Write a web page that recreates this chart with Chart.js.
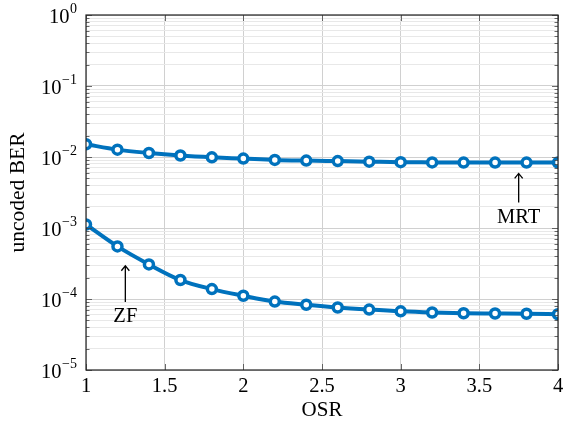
<!DOCTYPE html>
<html>
<head>
<meta charset="utf-8">
<script src="https://cdn.jsdelivr.net/npm/chart.js@4"></script>
<style>
  html, body { margin: 0; padding: 0; background: #fff; }
  #wrap { width: 571px; height: 426px; }
</style>
</head>
<body>
<div id="wrap"><canvas id="berChart" width="571" height="426"></canvas></div>
<script>
// Data
const osr = [1, 1.2, 1.4, 1.6, 1.8, 2, 2.2, 2.4, 2.6, 2.8, 3, 3.2, 3.4, 3.6, 3.8, 4];
const berMRT = [1.51e-2, 1.27e-2, 1.14e-2, 1.05e-2, 9.9e-3, 9.5e-3, 9.1e-3, 8.9e-3,
                8.75e-3, 8.6e-3, 8.45e-3, 8.4e-3, 8.35e-3, 8.35e-3, 8.35e-3, 8.35e-3];
const berZF = [1.12e-3, 5.5e-4, 3.07e-4, 1.85e-4, 1.38e-4, 1.11e-4, 9.2e-5, 8.3e-5,
               7.6e-5, 7.1e-5, 6.7e-5, 6.45e-5, 6.3e-5, 6.25e-5, 6.2e-5, 6.1e-5];
const xTicks = [1, 1.5, 2, 2.5, 3, 3.5, 4];
const yExponents = [0, -1, -2, -3, -4, -5];

// Annotations: label, x, arrow tail, arrow tip, text position
const annLabels = ['MRT', 'ZF'];
const annX = [3.75, 1.25];
const annTail = [2.29e-3, 9.1e-5];
const annTip = [5.87e-3, 2.94e-4];
const annText = [1.40e-3, 5.6e-5];

const blue = '#0072BD';
const serif = '"Liberation Serif", "DejaVu Serif", serif';

function toPoints(ys) {
    return osr.map((x, i) => ({ x: x, y: ys[i] }));
}

// Log ticks: every 1..9 x 10^e
function logTicks() {
    const t = [];
    for (let e = -5; e <= 0; e++) {
        for (let m = 1; m <= 9; m++) {
            const v = m * Math.pow(10, e);
            if (v <= 1.0000001) t.push({ value: v, major: m === 1 });
        }
    }
    return t;
}

const framePlugin = {
    id: 'frame',
    afterDraw(chart) {
        const ctx = chart.ctx;
        const a = chart.chartArea;
        const xs = chart.scales.x;
        const ys = chart.scales.y;
        ctx.save();

        // inner tick marks
        ctx.strokeStyle = '#444';
        ctx.lineWidth = 0.8;
        ys.ticks.forEach(t => {
            const y = Math.round(ys.getPixelForValue(t.value)) + 0.5;
            const len = t.major ? 6 : 3.5;
            ctx.beginPath();
            ctx.moveTo(a.left, y); ctx.lineTo(a.left + len, y);
            ctx.moveTo(a.right, y); ctx.lineTo(a.right - len, y);
            ctx.stroke();
        });
        xTicks.forEach(v => {
            const x = Math.round(xs.getPixelForValue(v)) + 0.5;
            ctx.beginPath();
            ctx.moveTo(x, a.bottom); ctx.lineTo(x, a.bottom - 6);
            ctx.moveTo(x, a.top); ctx.lineTo(x, a.top + 6);
            ctx.stroke();
        });

        // axis box
        ctx.strokeStyle = '#222';
        ctx.lineWidth = 1.2;
        ctx.strokeRect(a.left, a.top, a.right - a.left, a.bottom - a.top);

        // y tick labels 10^e
        ctx.fillStyle = '#000';
        yExponents.forEach(e => {
            const y = ys.getPixelForValue(Math.pow(10, e));
            const expStr = e === 0 ? '0' : '\u2212' + Math.abs(e);
            ctx.font = '14px ' + serif;
            const w2 = ctx.measureText(expStr).width;
            const right = a.left - 9;
            ctx.textBaseline = 'middle';
            ctx.textAlign = 'left';
            ctx.fillText(expStr, right - w2, y - 6);
            ctx.font = '20.5px ' + serif;
            ctx.textAlign = 'right';
            ctx.fillText('10', right - w2 - 0.5, y + 3);
        });

        // annotations
        annLabels.forEach((lab, i) => {
            const x = xs.getPixelForValue(annX[i]);
            const yTail = ys.getPixelForValue(annTail[i]);
            const yTip = ys.getPixelForValue(annTip[i]);
            const yTxt = ys.getPixelForValue(annText[i]);
            ctx.strokeStyle = '#000';
            ctx.lineWidth = 1.3;
            ctx.beginPath();
            ctx.moveTo(x, yTail); ctx.lineTo(x, yTip);
            ctx.moveTo(x - 4, yTip + 5); ctx.lineTo(x, yTip); ctx.lineTo(x + 4, yTip + 5);
            ctx.stroke();
            ctx.font = '20.5px ' + serif;
            ctx.textAlign = 'center';
            ctx.textBaseline = 'middle';
            ctx.fillText(lab, x, yTxt);
        });
        ctx.restore();
    }
};

const ctx = document.getElementById('berChart').getContext('2d');
const seriesStyle = {
    borderColor: blue,
    borderWidth: 4,
    pointRadius: 4.5,
    pointBorderWidth: 3.5,
    pointBackgroundColor: '#fff',
    pointBorderColor: blue,
    cubicInterpolationMode: 'monotone',
    fill: false
};

new Chart(ctx, {
    type: 'line',
    data: {
        datasets: [
            Object.assign({ label: 'MRT', data: toPoints(berMRT) }, seriesStyle),
            Object.assign({ label: 'ZF', data: toPoints(berZF) }, seriesStyle)
        ]
    },
    options: {
        responsive: false,
        animation: false,
        layout: { padding: { top: 15, right: 13, left: 0, bottom: 0 } },
        plugins: {
            legend: { display: false },
            tooltip: { enabled: false }
        },
        scales: {
            x: {
                type: 'linear',
                min: 1,
                max: 4,
                afterBuildTicks: scale => { scale.ticks = xTicks.map(v => ({ value: v })); },
                afterFit: scale => { scale.height = 56; },
                ticks: {
                    color: '#000',
                    font: { family: serif, size: 20.5 },
                    padding: 4,
                    maxRotation: 0,
                    callback: v => String(v)
                },
                grid: { color: '#d0d0d0', lineWidth: 1, drawTicks: false },
                border: { display: false },
                title: {
                    display: true,
                    text: 'OSR',
                    color: '#000',
                    font: { family: serif, size: 21 },
                    padding: { top: 0, bottom: 3 }
                }
            },
            y: {
                type: 'logarithmic',
                min: 1e-5,
                max: 1,
                afterBuildTicks: scale => { scale.ticks = logTicks(); },
                afterFit: scale => { scale.width = 86; },
                ticks: { display: false },
                grid: {
                    drawTicks: false,
                    color: c => (c.tick && c.tick.major) ? '#d0d0d0' : '#e8e8e8',
                    lineWidth: 1
                },
                border: { display: false },
                title: {
                    display: true,
                    text: 'uncoded BER',
                    color: '#000',
                    font: { family: serif, size: 21.5 },
                    padding: { top: 5, bottom: 0 }
                }
            }
        }
    },
    plugins: [framePlugin]
});
</script>
</body>
</html>
